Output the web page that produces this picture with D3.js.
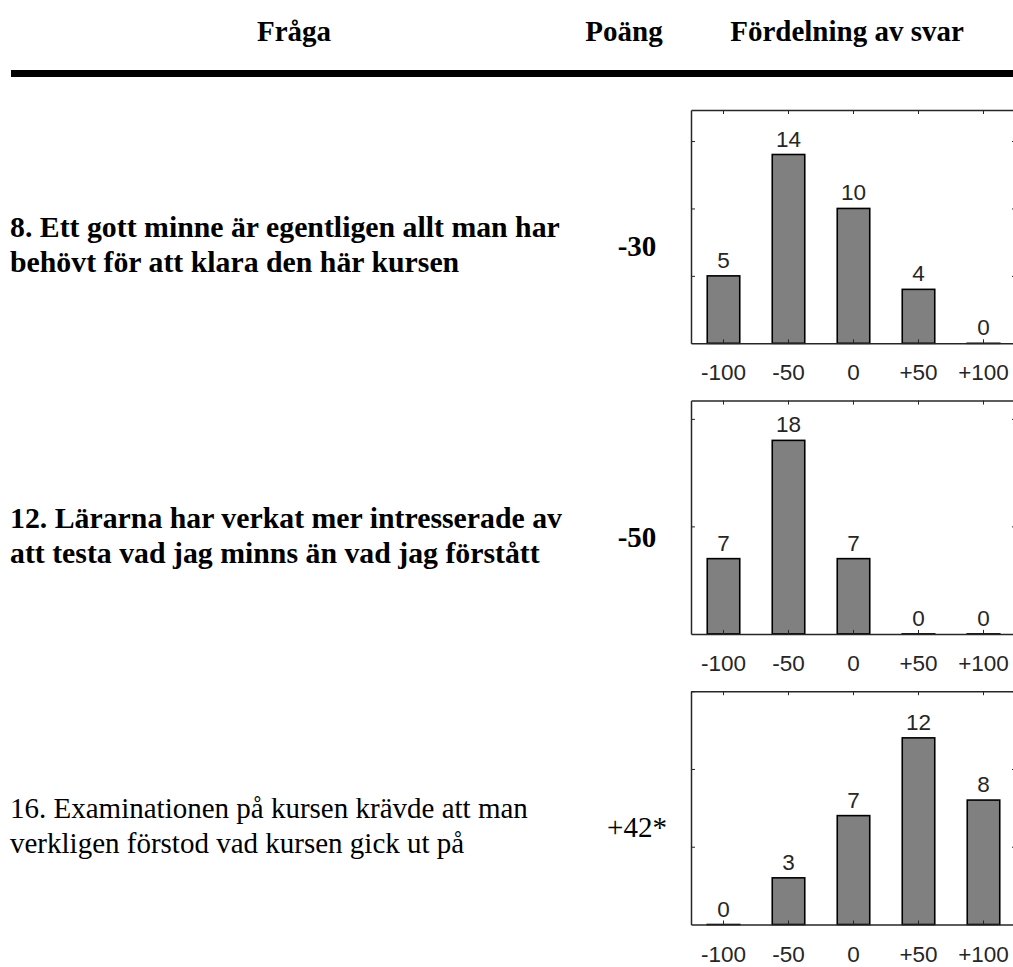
<!DOCTYPE html>
<html>
<head>
<meta charset="utf-8">
<script src="https://cdn.jsdelivr.net/npm/d3@7"></script>
<style>
body { margin:0; background:#fff; }
svg { display:block; }
.head { font-family:"Liberation Serif","Times New Roman",serif; font-weight:bold; font-size:29px; }
.q { font-family:"Liberation Serif","Times New Roman",serif; font-size:29px; }
.num { font-family:"Liberation Sans",Arial,sans-serif; font-size:22.5px; fill:#262626; }
.ax path, .ax line { stroke:#262626; }
.ax text { font-family:"Liberation Sans",Arial,sans-serif; font-size:22.5px; fill:#262626; }
</style>
</head>
<body>
<div id="chart"></div>
<script>
// svar-kategorier
var categories = ["-100","-50","0","+50","+100"];

// frågor (två rader var)
var questions = [
	["8. Ett gott minne är egentligen allt man har","behövt för att klara den här kursen"],
	["12. Lärarna har verkat mer intresserade av","att testa vad jag minns än vad jag förstått"],
	["16. Examinationen på kursen krävde att man","verkligen förstod vad kursen gick ut på"]
];
var boldRow = [true, true, false];
var scores = ["-30","-50","+42*"];

// antal svar per kategori
var counts1 = [5,14,10,4,0];
var counts2 = [7,18,7,0,0];
var counts3 = [0,3,7,12,8];
var allCounts = [counts1,counts2,counts3];

// y-axlar
var yMax = [17.3,21.7,15];
var yTicks = [[5,10,15],[10,20],[5,10,15]];

var headers = ["Fråga","Poäng","Fördelning av svar"];

var W = 1013, H = 967;
var svg = d3.select("#chart").append("svg").attr("width",W).attr("height",H);

//rubriker
var headX = [294,624,847];
svg.selectAll(".head").data(headers).enter().append("text")
	.attr("class","head")
	.attr("x",function(d,i){ return headX[i]; })
	.attr("y",41)
	.attr("text-anchor","middle")
	.text(function(d){ return d; });

svg.append("line").attr("x1",11).attr("x2",W).attr("y1",73.5).attr("y2",73.5)
	.attr("stroke","#000").attr("stroke-width",7);

var boxL = 691, boxR = 1016, boxH = 233.3, rowStep = 290.6, firstTop = 110;

var x = d3.scaleBand().domain(categories).range([boxL,boxR]).paddingInner(0.5).paddingOuter(0.25);

var drawRow = function(r){
	var pTop = firstTop + r*rowStep;
	var pBottom = pTop + boxH;
	var y = d3.scaleLinear().domain([0,yMax[r]]).range([pBottom,pTop]);
	var g = svg.append("g");

	// frågetext
	var t = g.append("text").attr("class","q")
		.style("font-weight", boldRow[r] ? "bold" : "normal")
		.style("font-size", boldRow[r] ? "29.8px" : "29px");
	questions[r].forEach(function(line,k){
		t.append("tspan").attr("x",10).attr("y",pTop+127+k*35).text(line);
	});
	g.append("text").attr("class","q")
		.style("font-weight", boldRow[r] ? "bold" : "normal")
		.attr("x",637).attr("y",pTop+146).attr("text-anchor","middle")
		.text(scores[r]);

	// staplar
	var data = allCounts[r];
	g.selectAll("rect.bar").data(data).enter().append("rect")
		.attr("class","bar")
		.attr("x",function(d,i){ return x(categories[i]); })
		.attr("width",x.bandwidth())
		.attr("y",function(d){ return y(d); })
		.attr("height",function(d){ return Math.max(pBottom-y(d),0.01); })
		.attr("fill","#808080")
		.attr("stroke","#000")
		.attr("stroke-width",1.6);

	g.selectAll("text.num").data(data).enter().append("text")
		.attr("class","num")
		.attr("x",function(d,i){ return x(categories[i])+x.bandwidth()/2; })
		.attr("y",function(d){ return y(d)-8; })
		.attr("text-anchor","middle")
		.text(function(d){ return d; });

	// axlar
	g.append("g").attr("class","ax").attr("transform","translate(0,"+pBottom+")")
		.call(d3.axisBottom(x).tickSizeInner(-4).tickSizeOuter(0).tickPadding(37))
		.select(".domain").attr("stroke-width",1.5);
	g.append("g").attr("class","ax").attr("transform","translate(0,"+pTop+")")
		.call(d3.axisTop(x).tickSizeInner(-4).tickSizeOuter(0).tickFormat(""))
		.select(".domain").attr("stroke-width",1.5);
	g.append("g").attr("class","ax").attr("transform","translate("+boxL+",0)")
		.call(d3.axisLeft(y).tickValues(yTicks[r]).tickSizeInner(-4).tickSizeOuter(0).tickFormat(""))
		.select(".domain").attr("stroke-width",1.5);
	g.append("g").attr("class","ax").attr("transform","translate("+boxR+",0)")
		.call(d3.axisRight(y).tickValues(yTicks[r]).tickSizeInner(-4).tickSizeOuter(0).tickFormat(""));
	g.selectAll(".ax text").attr("dy",null);
};

for(var r=0; r<3; r++){
	drawRow(r);
}
</script>
</body>
</html>
